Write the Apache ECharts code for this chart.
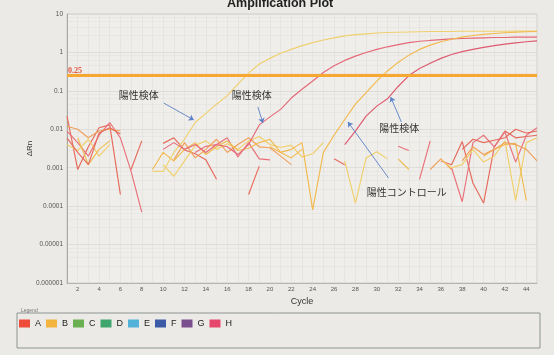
<!DOCTYPE html>
<html>
<head>
<meta charset="utf-8">
<script src="https://cdn.jsdelivr.net/npm/echarts@6/dist/echarts.min.js"></script>
<style>
  html, body { margin: 0; padding: 0; background: #ebeae6; }
  #chart { width: 554px; height: 355px; }
</style>
</head>
<body>
<div id="chart"></div>
<script>
// ---- data ----
const yTickLabels = ['0.000001', '0.00001', '0.0001', '0.001', '0.01', '0.1', '1', '10'];
const legendNames = ['A', 'B', 'C', 'D', 'E', 'F', 'G', 'H'];
const legendColors = ['#ee4b3b', '#f2b43c', '#6aaf50', '#3ea66c', '#52b2d9', '#3d5aa6', '#7b4f8e', '#e6466b'];
const threshold = 0.25;
const noteTexts = ['陽性検体', '陽性検体', '陽性検体', '陽性コントロール'];

// amplification traces [cycle, ΔRn]
const ampYellowEarly = [[9,0.0008],[10,0.0008],[11,0.0025],[12,0.0055],[13,0.015],[14,0.026],[15,0.045],[16,0.075],[17,0.15],[18,0.29],[19,0.5],[20,0.7],[21,0.95],[22,1.2],[23,1.5],[24,1.8],[25,2.1],[26,2.4],[27,2.7],[28,2.9],[29,3.05],[30,3.2],[31,3.3],[32,3.35],[33,3.4],[34,3.45],[35,3.5],[36,3.5],[37,3.5],[38,3.55],[39,3.55],[40,3.55],[41,3.55],[42,3.55],[43,3.6],[44,3.6],[45,3.6]];
const ampRedEarly = [[10,0.003],[11,0.0045],[12,0.003],[13,0.004],[14,0.0025],[15,0.004],[16,0.0035],[17,0.0022],[18,0.004],[19,0.013],[20,0.021],[21,0.033],[22,0.065],[23,0.11],[24,0.18],[25,0.3],[26,0.45],[27,0.62],[28,0.8],[29,1.0],[30,1.2],[31,1.4],[32,1.6],[33,1.8],[34,1.95],[35,2.05],[36,2.15],[37,2.25],[38,2.3],[39,2.35],[40,2.4],[41,2.45],[42,2.45],[43,2.5],[44,2.5],[45,2.5]];
const ampYellowLate = [[20,0.0035],[21,0.0025],[22,0.003],[23,0.0045],[24,0.00008],[25,0.0025],[26,0.007],[27,0.018],[28,0.045],[29,0.09],[30,0.18],[31,0.33],[32,0.55],[33,0.85],[34,1.2],[35,1.55],[36,1.9],[37,2.2],[38,2.5],[39,2.75],[40,2.95],[41,3.1],[42,3.25],[43,3.35],[44,3.45],[45,3.5]];
const ampRedLate = [[27,0.004],[28,0.009],[29,0.022],[30,0.04],[31,0.062],[32,0.13],[33,0.25],[34,0.38],[35,0.52],[36,0.7],[37,0.88],[38,1.05],[39,1.2],[40,1.35],[41,1.5],[42,1.65],[43,1.78],[44,1.9],[45,2.0]];

// baseline noise segments (negative ΔRn leaves gaps on the log scale)
const noiseL1 = [[1,0.022],[2,0.0009],[3,0.0035],[4,0.011],[5,0.013],[6,0.0002]];
const noiseL2 = [[1,0.009],[2,0.0045],[3,0.002],[4,0.007],[5,0.015],[6,0.006],[7,0.0008],[8,0.00007]];
const noiseL3 = [[1,0.012],[2,0.01],[3,0.006],[4,0.009],[5,0.01],[6,0.009]];
const noiseL4 = [[1,0.004],[2,0.0028],[3,0.0055],[4,0.002],[5,0.004]];
const noiseL5 = [[2,0.006],[3,0.0012],[4,0.003],[5,0.005]];
const noiseL6 = [[1,0.006],[2,0.0025],[3,0.0012],[4,0.008],[5,0.011],[6,0.0075]];
const noiseL7 = [[7,0.0009],[8,0.005]];
const noiseM1 = [[10,0.0043],[11,0.006],[12,0.0029],[13,0.0023],[14,0.0016],[15,0.0005]];
const noiseM2 = [[13,0.0025],[14,0.0036],[15,0.004],[16,0.006],[17,0.0019],[18,0.0045],[19,0.0017],[20,0.0016]];
const noiseM3 = [[10,0.0012],[11,0.0006],[12,0.0015],[13,0.0038],[14,0.005],[15,0.003],[16,0.0042],[17,0.003],[18,0.005],[19,0.0065],[20,0.004],[21,0.0034],[22,0.0038],[23,0.0019],[24,0.0023],[25,0.0045]];
const noiseM4 = [[11,0.0016],[12,0.0045],[13,0.0018],[14,0.003],[15,0.0055],[16,0.0025],[17,0.004],[18,0.006],[19,0.0035],[20,0.0033],[21,0.002],[22,0.0012]];
const noiseM5 = [[9,0.0009],[10,0.0025],[11,0.0015],[12,0.003],[13,0.0045],[14,0.0022],[15,0.0035],[16,0.005],[17,0.0028],[18,0.0032],[19,0.0045],[20,0.0055],[21,0.0025],[22,0.0018],[23,0.003]];
const noiseM6 = [[18,0.0002],[19,0.0011]];
const noiseM7 = [[26,0.0017],[27,0.0012]];
const noiseM8 = [[27,0.0015],[28,0.00012],[29,0.0018],[30,0.0026],[31,0.0017]];
const noiseM9 = [[32,0.0036],[33,0.0028]];
const noiseM10 = [[32,0.0017],[33,0.0009]];
const noiseM11 = [[34,0.0005],[35,0.005]];
const noiseM12 = [[35,0.0009],[36,0.0017],[37,0.0009]];
const noiseR1 = [[36,0.0015],[37,0.0012],[38,0.0048],[39,0.0004],[40,0.00012],[41,0.0035],[42,0.009],[43,0.006],[44,0.0065],[45,0.007]];
const noiseR2 = [[37,0.001],[38,0.00013],[39,0.0045],[40,0.007],[41,0.0035],[42,0.0085],[43,0.0014],[44,0.007],[45,0.011]];
const noiseR3 = [[38,0.003],[39,0.0055],[40,0.0045],[41,0.0052],[42,0.006],[43,0.01],[44,0.008],[45,0.009]];
const noiseR4 = [[36,0.0016],[37,0.001],[38,0.0012],[39,0.003],[40,0.0014],[41,0.002],[42,0.005],[43,0.00014],[44,0.0045],[45,0.006]];
const noiseR5 = [[40,0.002],[41,0.003],[42,0.004],[43,0.0043],[44,0.00014]];
const noiseR6 = [[38,0.0015],[39,0.0035],[40,0.0022],[41,0.003],[42,0.0045],[43,0.004],[44,0.003],[45,0.0015]];

// ---- trace styling ----
const RED = '#e8707a', RED2 = '#e66a5c', ORANGE = '#f0a05a', YELLOW = '#f1cf6a', YELLOW2 = '#f0bc52';
const traces = [
  ['A', RED2, noiseL1], ['A', RED, noiseL2], ['B', ORANGE, noiseL3], ['B', YELLOW, noiseL4],
  ['B', YELLOW2, noiseL5], ['A', RED2, noiseL6], ['A', RED2, noiseL7],
  ['A', RED2, noiseM1], ['A', RED, noiseM2], ['B', YELLOW, noiseM3], ['B', ORANGE, noiseM4],
  ['B', YELLOW2, noiseM5], ['A', RED2, noiseM6], ['A', RED2, noiseM7], ['B', YELLOW, noiseM8],
  ['A', RED, noiseM9], ['B', YELLOW2, noiseM10], ['A', RED, noiseM11], ['B', ORANGE, noiseM12],
  ['A', RED2, noiseR1], ['A', RED, noiseR2], ['A', RED2, noiseR3], ['B', YELLOW, noiseR4],
  ['B', YELLOW2, noiseR5], ['B', ORANGE, noiseR6],
  ['B', '#efd070', ampYellowEarly], ['A', '#e66878', ampRedEarly],
  ['B', '#f2b94e', ampYellowLate], ['A', '#de5a70', ampRedLate]
];

const series = traces.map(([name, color, data]) => ({
  type: 'line', name, data, symbol: 'none', silent: true,
  lineStyle: { color, width: 1.15 }, itemStyle: { color }
}));

// empty wells still listed in the legend
legendNames.forEach((n, i) => {
  if (n !== 'A' && n !== 'B') series.push({ type: 'line', name: n, data: [], itemStyle: { color: legendColors[i] } });
});

// threshold and callouts
series.push({
  type: 'line', name: 'threshold', data: [], silent: true,
  markLine: {
    symbol: 'none', silent: true, animation: false,
    lineStyle: { color: '#f6a833', width: 3, type: 'solid' },
    label: { show: true, position: 'insideStartTop', formatter: String(threshold), color: '#e2553a',
             fontFamily: 'Liberation Serif', fontWeight: 'bold', fontSize: 8, distance: [1, 1] },
    data: [{ yAxis: threshold }]
  }
});
series.push({
  type: 'line', name: 'notes', data: [], silent: true,
  markLine: {
    symbol: ['none', 'arrow'], symbolSize: 5, silent: true, animation: false,
    lineStyle: { color: '#5a80c6', width: 0.9, type: 'solid' },
    label: { show: false },
    data: [
      [{ coord: [10.06, 0.048] }, { coord: [12.87, 0.0175] }],
      [{ coord: [18.87, 0.038] }, { coord: [19.34, 0.0146] }],
      [{ coord: [32.3, 0.0155] }, { coord: [31.3, 0.069] }],
      [{ coord: [31.1, 0.00054] }, { coord: [27.3, 0.0155] }]
    ]
  },
  markPoint: {
    symbol: 'circle', symbolSize: 1, silent: true, animation: false,
    itemStyle: { color: 'rgba(0,0,0,0)' },
    label: { show: true, position: 'inside', formatter: '{b}', color: '#333',
             fontFamily: 'Noto Sans CJK JP', fontSize: 10 },
    data: [
      { name: noteTexts[0], coord: [7.72, 0.078] },
      { name: noteTexts[1], coord: [18.3, 0.078] },
      { name: noteTexts[2], coord: [32.1, 0.0108] },
      { name: noteTexts[3], coord: [32.8, 0.00023] }
    ]
  }
});

const chart = echarts.init(document.getElementById('chart'), null, { renderer: 'canvas' });
chart.setOption({
  animation: false,
  backgroundColor: '#ebeae6',
  textStyle: { fontFamily: 'Liberation Sans' },
  title: {
    text: 'Amplification Plot', left: 222, top: -8,
    textStyle: { fontSize: 12.5, fontWeight: 'bold', color: '#222', fontFamily: 'Liberation Sans' }
  },
  grid: { left: 67, right: 17, top: 14, bottom: 72, show: true, backgroundColor: '#efeeea', borderColor: '#d0cfca', borderWidth: 1 },
  legend: {
    left: 14, top: 314, itemWidth: 11, itemHeight: 8, itemGap: 5, icon: 'rect',
    textStyle: { fontSize: 9, color: '#222' },
    data: legendNames.map((n, i) => ({ name: n, itemStyle: { color: legendColors[i] } })),
    selectedMode: false
  },
  xAxis: {
    type: 'value', min: 1, max: 45, interval: 1,
    name: 'Cycle', nameLocation: 'middle', nameGap: 14,
    nameTextStyle: { fontSize: 9, color: '#333' },
    axisLine: { show: true, lineStyle: { color: '#b5b4b0' } },
    axisTick: { show: false },
    axisLabel: { formatter: v => (v % 2 === 0 ? String(v) : ''), fontSize: 6, color: '#555', margin: 3 },
    splitLine: { show: true, lineStyle: { color: '#e0dfda', width: 0.6 } }
  },
  yAxis: {
    type: 'log', logBase: 10, min: 0.000001, max: 10,
    name: 'ΔRn', nameLocation: 'middle', nameGap: 33, nameRotate: 90, nameMoveOverlap: false,
    nameTextStyle: { fontSize: 8, color: '#333' },
    axisLine: { show: true, lineStyle: { color: '#a9a8a4' } },
    axisTick: { show: false },
    axisLabel: { formatter: v => yTickLabels[Math.round(Math.log10(v)) + 6], fontSize: 6.5, color: '#555', margin: 4 },
    splitLine: { show: true, lineStyle: { color: '#d9d8d3', width: 0.8 } },
    minorTick: { show: false, splitNumber: 5 },
    minorSplitLine: { show: true, lineStyle: { color: '#e3e2dd', width: 0.6 } }
  },
  graphic: [
    { type: 'rect', shape: { x: 17, y: 313, width: 523, height: 35 }, style: { fill: 'none', stroke: '#8d9492', lineWidth: 1 }, silent: true },
    { type: 'text', x: 21, y: 308, style: { text: 'Legend', fontSize: 5, fill: '#777' }, silent: true }
  ],
  series
});
</script>
</body>
</html>
